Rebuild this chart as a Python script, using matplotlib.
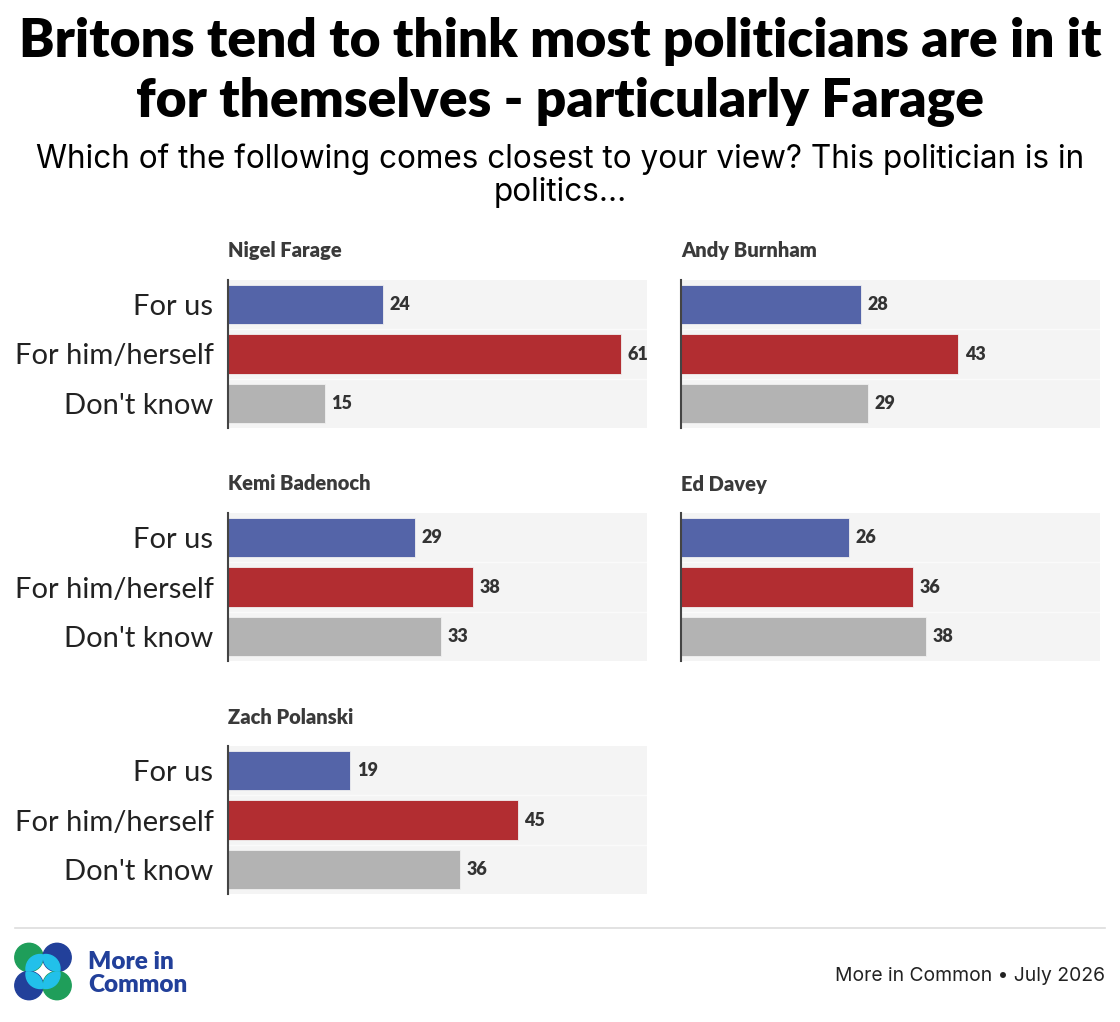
import matplotlib
matplotlib.use("Agg")
import matplotlib.pyplot as plt
from matplotlib.patches import Circle

plt.rcParams['font.family'] = ['Lato', 'DejaVu Sans']

W, H = 1120, 1022

politicians = ["Nigel Farage", "Andy Burnham", "Kemi Badenoch", "Ed Davey", "Zach Polanski"]
answers = ["For us", "For him/herself", "Don't know"]
for_us = [24, 28, 29, 26, 19]
for_self = [61, 43, 38, 36, 45]
dont_know = [15, 29, 33, 38, 36]
bar_colors = ["#5464a8", "#b22d31", "#b3b3b3"]

title = "Britons tend to think most politicians are in it\nfor themselves - particularly Farage"
subtitle = "Which of the following comes closest to your view? This politician is in\npolitics\u2026"
source = "More in Common \u2022 July 2026"


def rect(x, y, w, h):
    # pixel box (top-left origin) -> figure fraction
    return [x / W, 1 - (y + h) / H, w / W, h / H]


fig = plt.figure(figsize=(W / 100, H / 100), dpi=100)

t1, t2 = title.split("\n")
fig.text(0.5, 1 - 57 / H, t1, ha="center", va="baseline",
         fontsize=38.3, fontweight="heavy", color="black")
fig.text(0.5, 1 - 117 / H, t2, ha="center", va="baseline",
         fontsize=38.3, fontweight="heavy", color="black")
s1, s2 = subtitle.split("\n")
fig.text(0.5, 1 - 168 / H, s1, ha="center", va="baseline",
         fontsize=22.7, color="black", family="Inter")
fig.text(0.5, 1 - 201 / H, s2, ha="center", va="baseline",
         fontsize=22.7, color="black", family="Inter")

positions = [(228, 280), (681, 280), (228, 513), (681, 513), (228, 746)]

for i, name in enumerate(politicians):
    px, py = positions[i]
    ax = fig.add_axes(rect(px, py, 419, 148))
    vals = [for_us[i], for_self[i], dont_know[i]]
    ax.set_facecolor("#f4f4f4")
    ax.barh(range(3), vals, height=0.8, color=bar_colors, edgecolor="#f0f0f0",
            linewidth=0.6, zorder=2)
    for y in [0.5, 1.5]:
        ax.axhline(y, color="#fafafa", lw=1.0, zorder=1)
    for j, v in enumerate(vals):
        ax.text(v + 1.0, j, str(v), va="center", ha="left", fontsize=13,
                fontweight="heavy", color="#333333")
    ax.set_xlim(0, 65)
    ax.set_ylim(2.5, -0.5)
    ax.set_xticks([])
    for s in ["top", "right", "bottom"]:
        ax.spines[s].set_visible(False)
    ax.spines["left"].set_color("#444444")
    ax.spines["left"].set_linewidth(1.5)
    if px < 500:
        ax.set_yticks(range(3))
        ax.set_yticklabels(answers, fontsize=21, color="#222222")
        ax.tick_params(axis="y", length=0, pad=10.5)
    else:
        ax.set_yticks([])
    fig.text(px / W, 1 - (py - 29) / H, name, ha="left", va="center",
             fontsize=14.5, fontweight="heavy", color="#3a3a3a")

# footer
line_ax = fig.add_axes(rect(0, 0, W, H), facecolor="none")
line_ax.set_xlim(0, W)
line_ax.set_ylim(H, 0)
line_ax.axis("off")
line_ax.plot([15, 1105], [928, 928], color="#dddddd", lw=1.2)

# logo: four overlapping circles
cx, cy, d, r = 43, 971.5, 14, 14.2
outer = {(-1, -1): "#1f9e5a", (1, -1): "#22409a", (-1, 1): "#22409a", (1, 1): "#1f9e5a"}
for (sx, sy), col in outer.items():
    c = Circle((cx + sx * d, cy + sy * d), r, color=col, zorder=3)
    line_ax.add_patch(c)
    inner = Circle((cx + sx * d * 0.2, cy + sy * d * 0.2), r, color="#22c0ea", zorder=4)
    line_ax.add_patch(inner)
    inner.set_clip_path(c)

fig.text(88 / W, 1 - 969 / H, "More in", ha="left", va="baseline",
         fontsize=17.5, fontweight="heavy", color="#22409a")
fig.text(88 / W, 1 - 992 / H, "Common", ha="left", va="baseline",
         fontsize=17.5, fontweight="heavy", color="#22409a")
fig.text(1105 / W, 1 - 981 / H, source, ha="right", va="baseline",
         fontsize=13.9, color="#222222", family="Inter")

fig.savefig("out.png", dpi=100, facecolor="white")
